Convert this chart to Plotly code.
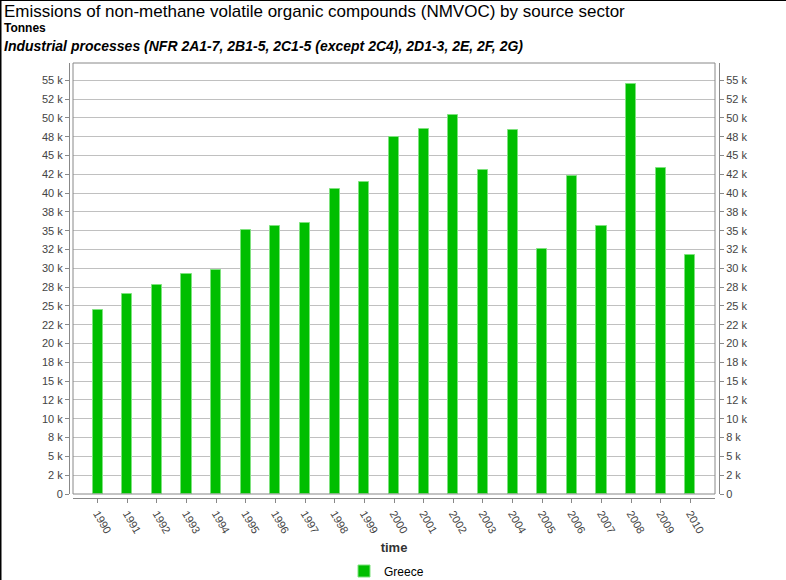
import plotly.graph_objects as go

years = [1990, 1991, 1992, 1993, 1994, 1995, 1996, 1997, 1998, 1999, 2000,
         2001, 2002, 2003, 2004, 2005, 2006, 2007, 2008, 2009, 2010]
greece = [24470, 26550, 27790, 29300, 29790, 35100, 35600, 36080, 40520, 41530, 47470,
          48500, 50400, 43090, 48400, 32620, 42330, 35680, 54520, 43390, 31780]
tick_vals = [i * 2500 for i in range(23)]
tick_text = ["0", "2 k", "5 k", "8 k", "10 k", "12 k", "15 k", "18 k", "20 k", "22 k", "25 k",
             "28 k", "30 k", "32 k", "35 k", "38 k", "40 k", "42 k", "45 k", "48 k", "50 k",
             "52 k", "55 k"]

W, H = 786, 580
ml, mr, mt, mb = 69, 67, 63, 82
pw, ph = W - ml - mr, H - mt - mb

fig = go.Figure()
fig.add_trace(go.Bar(
    x=years, y=greece, name="Greece", width=0.34,
    marker=dict(color="#00be00", line=dict(color="#7ee27e", width=1)),
    showlegend=True,
))
fig.add_trace(go.Scatter(
    x=years, y=greece, yaxis="y2", mode="markers", marker=dict(opacity=0),
    showlegend=False, hoverinfo="skip",
))

axis_font = dict(family="Liberation Sans, Arial, sans-serif", size=11, color="#444")
yrange = [0, 57300]

fig.update_layout(
    width=W, height=H,
    margin=dict(l=ml, r=mr, t=mt, b=mb, autoexpand=False),
    paper_bgcolor="white", plot_bgcolor="white",
    font=dict(family="Liberation Sans, Arial, sans-serif", color="#000"),
    bargap=0,
    xaxis=dict(
        domain=[4 / pw, 1 - 4 / pw],
        range=[1989.17, 2010.83],
        tickmode="array", tickvals=years, ticktext=[str(y) for y in years],
        tickangle=60, tickfont=axis_font,
        ticks="outside", ticklen=4, tickcolor="#888",
        showline=True, linecolor="#888", linewidth=1,
        anchor="free", position=0, automargin=False,
        showgrid=False, zeroline=False,
        title=dict(text="<b>time</b>", font=dict(size=13, color="#333"), standoff=8),
    ),
    yaxis=dict(
        domain=[4 / ph, 1],
        range=yrange,
        tickmode="array", tickvals=tick_vals, ticktext=tick_text,
        tickfont=axis_font,
        ticks="outside", ticklen=4, tickcolor="#888",
        showline=True, linecolor="#888", linewidth=1,
        anchor="free", position=0, automargin=False,
        showgrid=True, gridcolor="#c0c0c0", gridwidth=1,
        zeroline=False,
    ),
    yaxis2=dict(
        domain=[4 / ph, 1],
        range=yrange, overlaying="y", side="right",
        tickmode="array", tickvals=tick_vals, ticktext=tick_text,
        tickfont=axis_font,
        ticks="outside", ticklen=4, tickcolor="#888",
        showline=True, linecolor="#888", linewidth=1,
        anchor="free", position=1, automargin=False,
        showgrid=False, zeroline=False,
    ),
    legend=dict(
        orientation="h", x=(344 - ml) / pw, xanchor="left",
        y=-(571 - (H - mb)) / ph, yanchor="middle",
        font=dict(size=12, color="#000"),
        itemwidth=30,
    ),
    shapes=[
        dict(type="rect", xref="x domain", yref="y domain", x0=0, x1=1, y0=0, y1=1,
             line=dict(color="#888", width=1), layer="above"),
        dict(type="line", xref="paper", yref="paper", x0=-ml / pw, x1=-ml / pw,
             y0=-mb / ph, y1=1 + mt / ph, line=dict(color="#000", width=3)),
        dict(type="line", xref="paper", yref="paper", x0=-ml / pw, x1=1 + mr / pw,
             y0=1 + mt / ph, y1=1 + mt / ph, line=dict(color="#000", width=2)),
    ],
    annotations=[
        dict(text="Emissions of non-methane volatile organic compounds (NMVOC) by source sector",
             xref="paper", yref="paper", x=(2 - ml) / pw, y=1 + (mt - 11) / ph,
             xanchor="left", yanchor="middle", showarrow=False,
             font=dict(size=17, color="#000")),
        dict(text="<b>Tonnes</b>",
             xref="paper", yref="paper", x=(2 - ml) / pw, y=1 + (mt - 28) / ph,
             xanchor="left", yanchor="middle", showarrow=False,
             font=dict(size=12, color="#000")),
        dict(text="<b><i>Industrial processes (NFR 2A1-7, 2B1-5, 2C1-5 (except 2C4), 2D1-3, 2E, 2F, 2G)</i></b>",
             xref="paper", yref="paper", x=(2 - ml) / pw, y=1 + (mt - 46) / ph,
             xanchor="left", yanchor="middle", showarrow=False,
             font=dict(size=14, color="#000")),
    ],
)

fig.write_html(
    "out.html",
    config={"displayModeBar": False},
    post_script="document.body.style.margin='0';document.body.style.padding='0';",
)
